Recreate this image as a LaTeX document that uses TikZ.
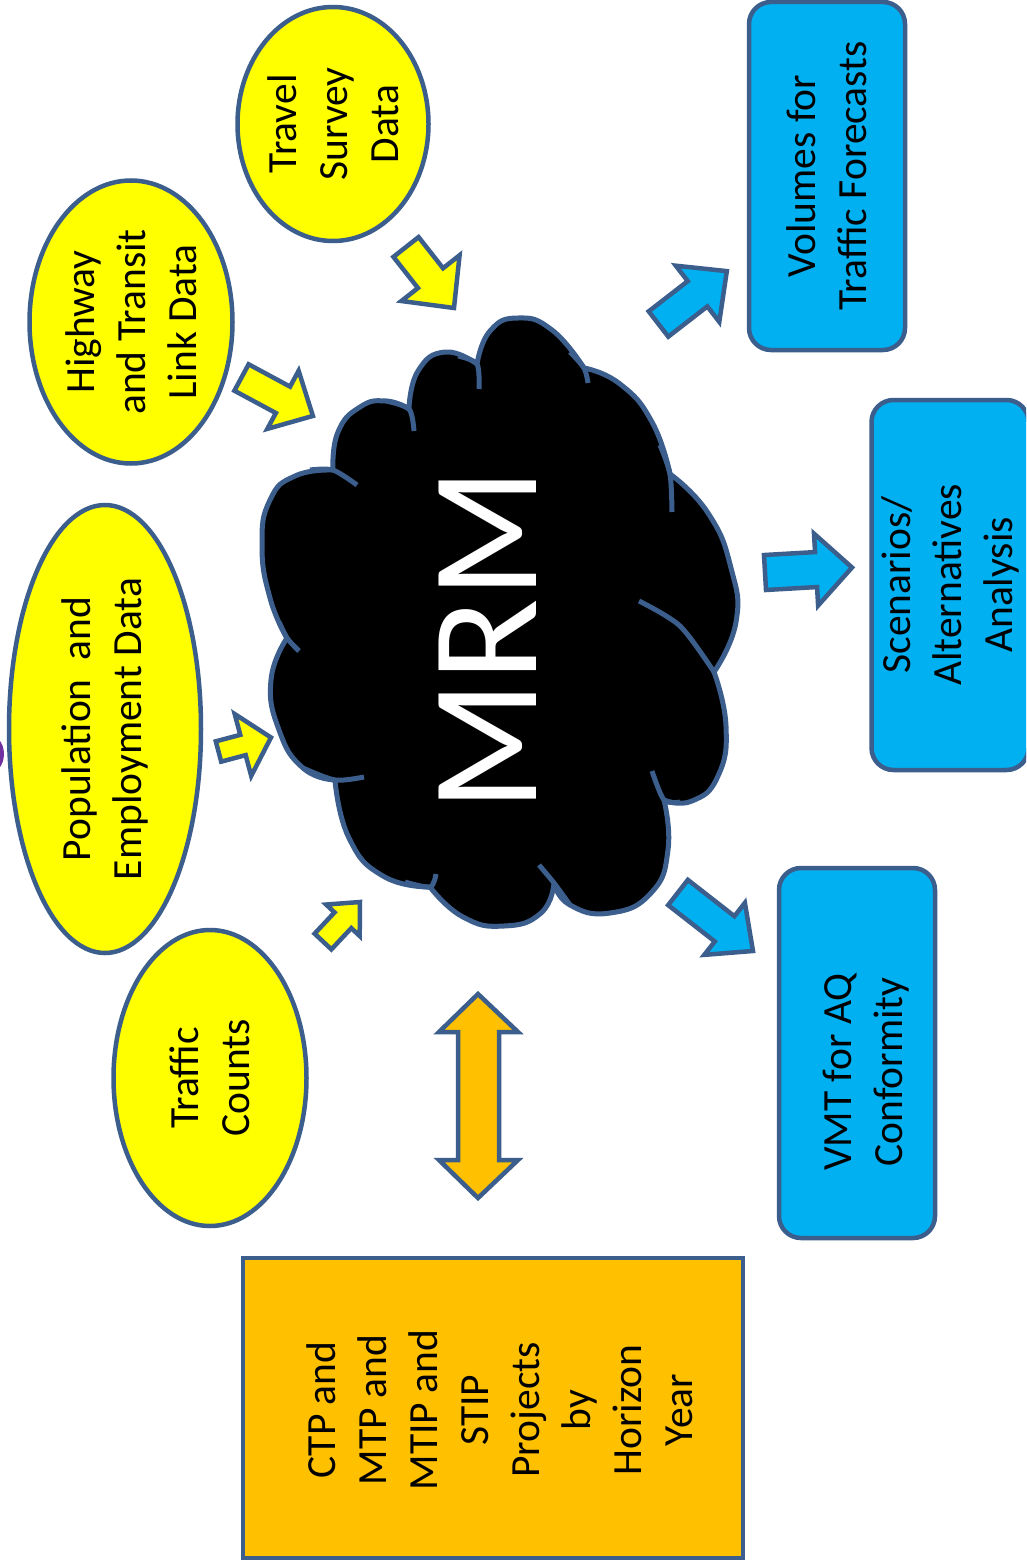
\documentclass[tikz,border=0pt]{standalone}
\usepackage{fontspec}
\setmainfont{Carlito}
\usetikzlibrary{shapes.geometric}
\definecolor{edge}{RGB}{59,94,140}
\definecolor{yel}{RGB}{255,255,0}
\definecolor{sky}{RGB}{0,176,240}
\definecolor{orng}{RGB}{255,192,0}
\definecolor{purp}{RGB}{112,48,160}
\newcommand\blockarrow[8]{%
  \pgfmathsetmacro\baAng{atan2((#5)-(#3),(#4)-(#2))}%
  \pgfmathsetmacro\baLen{veclen((#4)-(#2),(#5)-(#3))}%
  \pgfmathsetmacro\baBase{\baLen-(#8)}%
  \begin{scope}[shift={(#2,#3)},rotate=-\baAng]
    \path[#1] (0,-#6) -- (\baBase,-#6) -- (\baBase,-#7) -- (\baLen,0) -- (\baBase,#7) -- (\baBase,#6) -- (0,#6) -- cycle;
  \end{scope}}
\tikzset{
  txt/.style={font=\fontsize{41.5}{51}\selectfont, align=center, text=black},
  bubble/.style={ellipse, draw=edge, line width=4.5pt, fill=yel, inner sep=0pt, rotate=90, txt},
  bluebox/.style={rectangle, rounded corners=22pt, draw=edge, line width=4.5pt, fill=sky, inner sep=0pt, rotate=90, txt},
  orangebox/.style={rectangle, draw=edge, line width=4.5pt, fill=orng, inner sep=0pt, rotate=90, txt},
  yarrow/.style={draw=edge, line width=4.5pt, fill=yel, line join=miter},
  barrow/.style={draw=edge, line width=4.5pt, fill=sky, line join=miter},
  oarrow/.style={draw=edge, line width=4.5pt, fill=orng, line join=miter},
  cloudline/.style={draw=edge, line width=5pt, line cap=butt, line join=round},
  lobe/.style={smooth, tension=0.85}
}
\begin{document}
\begin{tikzpicture}[x=1pt,y=-1pt]
\fill[white] (0,0) rectangle (1026,1568);
\useasboundingbox (0,0) rectangle (1026,1568);
\begin{scope}
\clip (0,0) rectangle (1026,1568);
% purple fragment at the left edge
\fill[purp] (-14,754) ellipse [x radius=18, y radius=21];

% input bubbles
\node[bubble, minimum width=234pt, minimum height=191pt] (travel) at (333,124) {Travel\\Survey\\Data};
\node[bubble, minimum width=283pt, minimum height=203pt] (highway) at (131,322) {Highway\\and Transit\\Link Data};
\node[bubble, minimum width=448pt, minimum height=192pt] (popemp) at (105,729) {Population\ \ and\\Employment Data};
\node[bubble, minimum width=296pt, minimum height=193pt] (counts) at (210,1078) {Traffic\\Counts};

% output boxes
\node[bluebox, minimum width=348pt, minimum height=156pt] (volumes) at (827,176) {Volumes for\\Traffic Forecasts};
\node[bluebox, minimum width=370pt, minimum height=157pt] (scen) at (950,585) {Scenarios/\\Alternatives\\Analysis};
\node[bluebox, minimum width=370pt, minimum height=156pt] (vmt) at (857,1053) {};
\node[txt, rotate=90] (vmttext) at (866,1072) {VMT for AQ\\Conformity};

% projects box
\node[orangebox, minimum width=300pt, minimum height=500pt] (ctp) at (493,1408) {};
\node[txt, rotate=90] (ctptext) at (500,1410) {CTP and\\MTP and\\MTIP and\\STIP\\Projects\\by\\Horizon\\Year};

% cloud
\draw[cloudline, fill=black]
  plot[lobe] coordinates {(287,638) (270,598) (262,545) (270,500) (295,476) (333,470)}
  -- plot[lobe] coordinates {(333,470) (338,432) (360,407) (386,401) (409,409)}
  -- plot[lobe] coordinates {(409,409) (418,371) (445,352) (477,364)}
  -- plot[lobe] coordinates {(477,364) (490,331) (518,318) (552,330) (584,368)}
  -- plot[lobe] coordinates {(584,368) (620,384) (652,422) (670,474)}
  -- plot[lobe] coordinates {(670,474) (708,513) (731,568) (736,622) (714,672)}
  -- plot[lobe] coordinates {(714,672) (726,726) (718,776) (692,801) (664,800)}
  -- plot[lobe] coordinates {(664,800) (668,850) (651,893) (610,913) (570,905) (554,883)}
  -- plot[lobe] coordinates {(554,883) (541,913) (504,926) (463,917) (430,887)}
  -- plot[lobe] coordinates {(430,887) (383,876) (349,838) (335,780)}
  -- plot[lobe] coordinates {(335,780) (303,768) (279,730) (271,680) (287,638)}
  -- cycle;
\draw[cloudline] plot[smooth] coordinates {(310,470) (333,470) (357,485)};
\draw[cloudline] plot[smooth] coordinates {(386,401) (409,409) (414,431)};
\draw[cloudline] plot[smooth] coordinates {(458,356) (477,364) (479,389)};
\draw[cloudline] plot[smooth] coordinates {(570,352) (584,368) (588,383)};
\draw[cloudline] plot[smooth] coordinates {(660,445) (670,474) (672,512)};
\draw[cloudline] plot[smooth] coordinates {(639,601) (680,626) (714,672)};
\draw[cloudline] plot[smooth] coordinates {(680,802) (664,800) (652,771)};
\draw[cloudline] plot[smooth] coordinates {(570,905) (554,883) (539,865)};
\draw[cloudline] plot[smooth] coordinates {(405,882) (430,887) (436,874)};
\draw[cloudline] plot[smooth] coordinates {(303,768) (335,780) (364,777)};
\draw[cloudline] plot[smooth] coordinates {(279,622) (287,638) (299,651)};
\node[text=white, rotate=90, font=\fontsize{152}{152}\selectfont, inner sep=0pt] (mrm) at (488,640) {MRM};

% arrows into the model
\blockarrow{yarrow}{406}{247}{454}{308}{16}{37}{38}
\blockarrow{yarrow}{241.5}{377.5}{313}{416}{15}{33}{34}
\blockarrow{yarrow}{218.5}{751.5}{271}{737.5}{10.5}{32}{29}
\blockarrow{yarrow}{323}{941.5}{360}{902}{11.5}{23}{25}
% arrows out of the model
\blockarrow{barrow}{658.5}{324}{727}{271}{16}{35.5}{37}
\blockarrow{barrow}{765}{572.5}{852}{567.5}{17.5}{36}{36}
\blockarrow{barrow}{678}{892.5}{753}{951}{16}{33}{36}

% two-way arrow to the projects
\path[oarrow] (478,994) -- (439,1032) -- (458,1032) -- (458,1160) -- (439,1160) -- (478,1198)
  -- (518,1160) -- (499,1160) -- (499,1032) -- (518,1032) -- cycle;
\end{scope}
\end{tikzpicture}
\end{document}
